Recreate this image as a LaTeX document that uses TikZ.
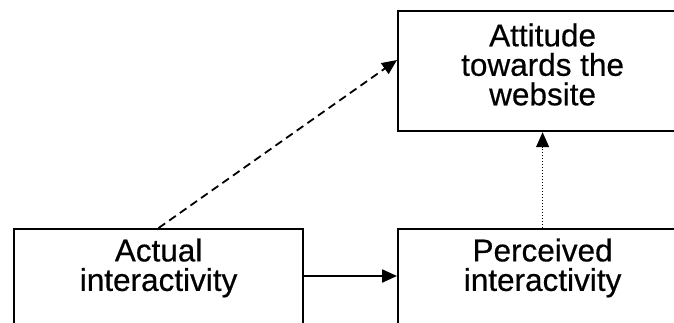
\documentclass[tikz,border=0pt]{standalone}
\usepackage{fontspec}
\setmainfont{Liberation Sans}[BoldFont={Liberation Sans},BoldFeatures={FakeBold=0.5}]
\usetikzlibrary{arrows.meta,calc}
\begin{document}
\begin{tikzpicture}[x=1pt,y=-1pt,
  box/.style={draw=black,line width=2.2pt,rectangle,inner sep=0pt,anchor=north west},
  lbl/.style={align=center,font=\fontsize{31.5}{29.5}\selectfont\bfseries,inner sep=0pt},
  tip/.style={-{Triangle[length=15pt,width=13pt]}},
  link/.style={line width=1.8pt,tip}]
  \useasboundingbox (0,0) rectangle (674,322);
  \clip (0,0) rectangle (674,322);
  % the three construct boxes (y grows downwards here)
  \node[box,minimum width=289pt,minimum height=120pt] (att) at (397,10) {};
  \node[box,minimum width=289pt,minimum height=130pt] (act) at (13,228) {};
  \node[box,minimum width=289pt,minimum height=130pt] (per) at (397,228) {};
  % box captions
  \node[lbl] (attT) at ($(att.north)+(0,54.5)$) {Attitude\\towards the\\website};
  \node[lbl] (actT) at ($(act.north)+(0,40)$) {Actual\\interactivity};
  \node[lbl] (perT) at ($(per.north)+(0,40)$) {Perceived\\interactivity};
  % paths between constructs
  \coordinate (attIn) at ($(att.north west)+(0,50)$);
  \draw[link,dash pattern=on 8pt off 5pt] (act.north) -- (attIn);
  \draw[link,line width=2.2pt] ($(act.north east)+(0,48)$) -- ($(per.north west)+(0,48)$);
  \draw[tip,line width=1.3pt,dash pattern=on 1.5pt off 1.5pt] (per.north) -- (att.south);
\end{tikzpicture}
\end{document}
